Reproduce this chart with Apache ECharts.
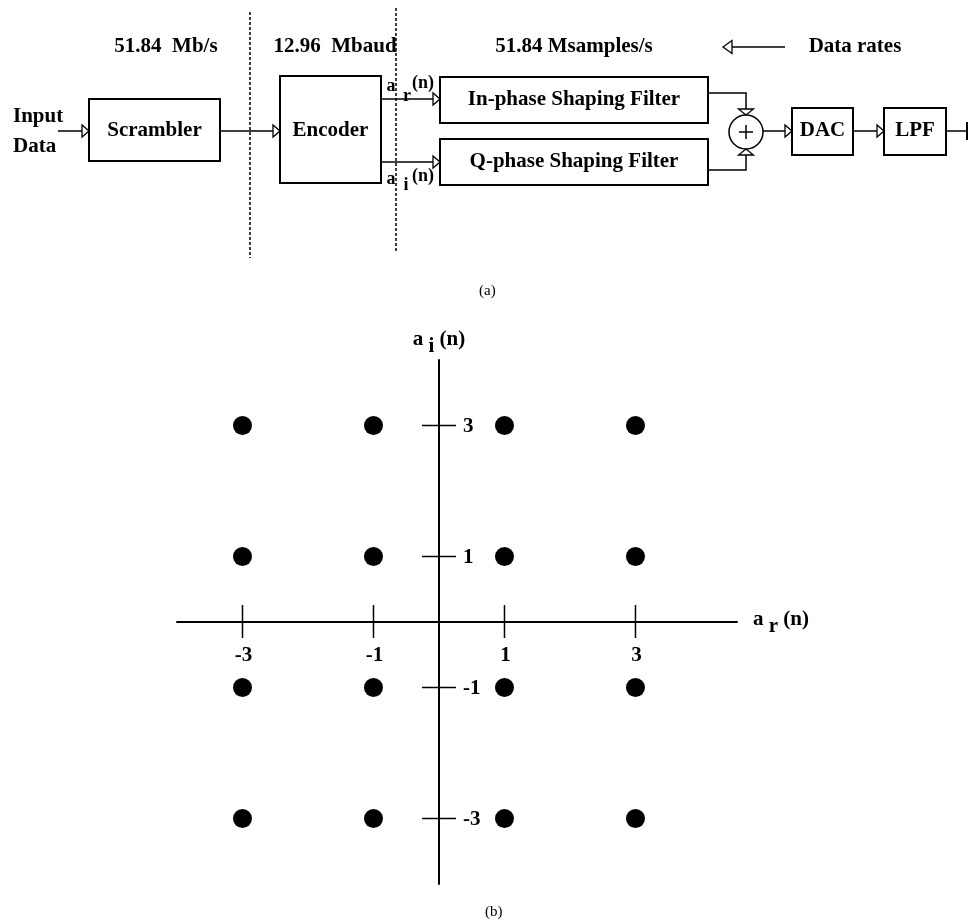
<!DOCTYPE html>
<html><head><meta charset="utf-8">
<script src="https://cdn.jsdelivr.net/npm/echarts@6/dist/echarts.min.js"></script>
<style>html,body{margin:0;padding:0;background:#fff}#c{width:969px;height:923px}</style>
</head><body><div id="c"></div>
<script>
// ---------------- data ----------------
const dataRates = ['51.84  Mb/s', '12.96  Mbaud', '51.84 Msamples/s'];
const legendLabel = 'Data rates';
const inputLabel = ['Input', 'Data'];
const blockNames = ['Scrambler', 'Encoder', 'In-phase Shaping Filter', 'Q-phase Shaping Filter', 'DAC', 'LPF'];
const signalNames = [['a', 'r', '(n)'], ['a', 'i', '(n)']];
const levelsI = [-3, -1, 1, 3];          // in-phase symbol levels a_r(n)
const levelsQ = [-3, -1, 1, 3];          // quadrature symbol levels a_i(n)
const xTickLabels = ['-3', '-1', '1', '3'];
const yTickLabels = ['-3', '-1', '1', '3'];
const captions = ['(a)', '(b)'];

// ---------------- layout (block diagram panel units) ----------------
const blockBoxes = [[89,99,220,161],[280,76,381,183],[440,77,708,123],[440,139,708,185],[792,108,853,155],[884,108,946,155]];
const blockTextY = [131, 131, 100, 162, 131, 131];
const connectors = [
  {pts:[[58,131],[89,131]], arrow:true},
  {pts:[[220,131],[280,131]], arrow:true},
  {pts:[[381,99],[440,99]], arrow:true},
  {pts:[[381,162],[440,162]], arrow:true},
  {pts:[[708,93],[746,93],[746,115]], arrow:true, aw:15, al:6},
  {pts:[[708,170],[746,170],[746,149]], arrow:true, aw:15, al:6},
  {pts:[[763,131],[792,131]], arrow:true},
  {pts:[[853,131],[884,131]], arrow:true},
  {pts:[[946,131],[967,131]], bar:true},
  {pts:[[785,47],[723,47]], arrow:true, aw:13, al:9}
];
const dashedLines = [[250,12,258],[396,8,252]];
const junction = {x:746, y:132, r:17};
const FONT = '"Liberation Serif", "Times New Roman", serif';

const diagramTexts = [
  {t:dataRates[0], x:166, y:47},
  {t:dataRates[1], x:335, y:47},
  {t:dataRates[2], x:574, y:47},
  {t:legendLabel, x:855, y:47},
  {t:inputLabel[0], x:13, y:117, align:'left'},
  {t:inputLabel[1], x:13, y:147, align:'left'},
  {t:signalNames[0][0], x:391, y:86, size:18},
  {t:signalNames[0][1], x:407, y:96, size:18},
  {t:signalNames[0][2], x:423, y:83, size:18},
  {t:signalNames[1][0], x:391, y:179, size:18},
  {t:signalNames[1][1], x:406, y:185, size:18},
  {t:signalNames[1][2], x:423, y:176, size:18}
];

function txt(str, x, y, size, align, weight) {
  return {type:'text', silent:true, style:{text:str, x:x, y:y, fill:'#000',
    font:(weight||'bold') + ' ' + (size||21) + 'px ' + FONT,
    align:align||'center', verticalAlign:'middle', textAlign:align||'center', textVerticalAlign:'middle'}};
}

const richName = {
  a:{fontFamily:FONT, fontWeight:'bold', fontSize:21, color:'#000', lineHeight:26, verticalAlign:'top'},
  s:{fontFamily:FONT, fontWeight:'bold', fontSize:21, color:'#000', lineHeight:36, verticalAlign:'middle'},
  n:{fontFamily:FONT, fontWeight:'bold', fontSize:21, color:'#000', lineHeight:26, verticalAlign:'top'}
};

const chart = echarts.init(document.getElementById('c'));

const points = [];
levelsQ.forEach(q => levelsI.forEach(i => points.push([i, q])));

const option = {
  animation:false,
  backgroundColor:'#fff',
  title:[
    {text:captions[0], left:479, top:284, padding:0, textStyle:{fontFamily:FONT, fontWeight:'normal', fontSize:15, color:'#000'}},
    {text:captions[1], left:485, top:905, padding:0, textStyle:{fontFamily:FONT, fontWeight:'normal', fontSize:15, color:'#000'}}
  ],
  grid:[
    {left:0, top:0, width:969, height:270, containLabel:false},
    {left:177, top:360, width:560, height:524, containLabel:false}
  ],
  xAxis:[
    {gridIndex:0, type:'value', min:0, max:969, show:false},
    {gridIndex:1, type:'value', min:-4, max:4.55, interval:1,
     axisLine:{onZero:true, lineStyle:{color:'#000', width:2}},
     axisTick:{show:false}, splitLine:{show:false}, axisLabel:{show:false},
     name:'{a|a}{s| r}{n| (n)}', nameLocation:'end', nameGap:16,
     nameTextStyle:{color:'#000', fontFamily:FONT, fontWeight:'bold', fontSize:21, padding:[10,0,0,0], rich:richName}}
  ],
  yAxis:[
    {gridIndex:0, type:'value', min:0, max:270, inverse:true, show:false},
    {gridIndex:1, type:'value', min:-4, max:4, interval:1,
     axisLine:{onZero:true, lineStyle:{color:'#000', width:2}},
     axisTick:{show:false}, splitLine:{show:false}, axisLabel:{show:false},
     name:'{a|a}{s| i}{n| (n)}', nameLocation:'end', nameGap:-5,
     nameTextStyle:{color:'#000', fontFamily:FONT, fontWeight:'bold', fontSize:21, rich:richName}}
  ],
  series:[
    // dashed rate-boundary lines
    {type:'custom', xAxisIndex:0, yAxisIndex:0, silent:true, data:dashedLines.map((d,i)=>[i]),
     renderItem:(params, api) => {
       const d = dashedLines[params.dataIndex];
       const a = api.coord([d[0], d[1]]), b = api.coord([d[0], d[2]]);
       return {type:'line', shape:{x1:a[0], y1:a[1], x2:b[0], y2:b[1]}, style:{stroke:'#000', lineWidth:1.5, lineDash:[3,2]}};
     }},
    // connectors with arrowheads
    {type:'custom', xAxisIndex:0, yAxisIndex:0, silent:true, data:connectors.map((c,i)=>[i]),
     renderItem:(params, api) => {
       const c = connectors[params.dataIndex];
       const pts = c.pts.map(p => api.coord(p));
       const children = [{type:'polyline', shape:{points:pts}, style:{stroke:'#000', lineWidth:1.5, fill:null}}];
       const E = pts[pts.length-1], S = pts[pts.length-2];
       const dx = E[0]-S[0], dy = E[1]-S[1], L = Math.hypot(dx, dy);
       const ux = dx/L, uy = dy/L, nx = -uy, ny = ux;
       if (c.arrow) {
         const al = c.al || 7, aw = (c.aw || 12)/2;
         const B = [E[0]-ux*al, E[1]-uy*al];
         children.push({type:'polygon', shape:{points:[E, [B[0]+nx*aw, B[1]+ny*aw], [B[0]-nx*aw, B[1]-ny*aw]]},
           style:{fill:'#fff', stroke:'#000', lineWidth:1.3}});
       }
       if (c.bar) {
         children.push({type:'line', shape:{x1:E[0], y1:E[1]-9, x2:E[0], y2:E[1]+9}, style:{stroke:'#000', lineWidth:2}});
       }
       return {type:'group', children:children};
     }},
    // summing junction
    {type:'custom', xAxisIndex:0, yAxisIndex:0, silent:true, data:[[0]],
     renderItem:(params, api) => {
       const c = api.coord([junction.x, junction.y]);
       const r = api.size([junction.r, 0])[0];
       return {type:'group', children:[
         {type:'circle', shape:{cx:c[0], cy:c[1], r:r}, style:{fill:'#fff', stroke:'#000', lineWidth:1.5}},
         {type:'line', shape:{x1:c[0]-7, y1:c[1], x2:c[0]+7, y2:c[1]}, style:{stroke:'#000', lineWidth:1.5}},
         {type:'line', shape:{x1:c[0], y1:c[1]-7, x2:c[0], y2:c[1]+7}, style:{stroke:'#000', lineWidth:1.5}}
       ]};
     }},
    // blocks
    {type:'custom', xAxisIndex:0, yAxisIndex:0, silent:true, data:blockNames.map((n,i)=>[i]),
     renderItem:(params, api) => {
       const i = params.dataIndex, b = blockBoxes[i];
       const p1 = api.coord([b[0], b[1]]), p2 = api.coord([b[2], b[3]]);
       const ty = api.coord([0, blockTextY[i]])[1];
       return {type:'group', children:[
         {type:'rect', shape:{x:p1[0], y:p1[1], width:p2[0]-p1[0], height:p2[1]-p1[1]}, style:{fill:'#fff', stroke:'#000', lineWidth:2}},
         txt(blockNames[i], (p1[0]+p2[0])/2, ty, 21)
       ]};
     }},
    // free text of the diagram
    {type:'custom', xAxisIndex:0, yAxisIndex:0, silent:true, data:diagramTexts.map((d,i)=>[i]),
     renderItem:(params, api) => {
       const d = diagramTexts[params.dataIndex];
       const p = api.coord([d.x, d.y]);
       return txt(d.t, p[0], p[1], d.size || 21, d.align || 'center');
     }},
    // constellation: x-axis ticks crossing the axis, with labels below
    {type:'custom', xAxisIndex:1, yAxisIndex:1, silent:true, data:levelsI.map(v => [v, 0]),
     renderItem:(params, api) => {
       const p = api.coord([api.value(0), api.value(1)]);
       return {type:'group', children:[
         {type:'line', shape:{x1:p[0], y1:p[1]-17, x2:p[0], y2:p[1]+16}, style:{stroke:'#000', lineWidth:1.5}},
         txt(xTickLabels[params.dataIndex], p[0]+1, p[1]+34, 21)
       ]};
     }},
    // constellation: y-axis ticks crossing the axis, with labels to the right
    {type:'custom', xAxisIndex:1, yAxisIndex:1, silent:true, data:levelsQ.map(v => [0, v]),
     renderItem:(params, api) => {
       const p = api.coord([api.value(0), api.value(1)]);
       return {type:'group', children:[
         {type:'line', shape:{x1:p[0]-17, y1:p[1], x2:p[0]+17, y2:p[1]}, style:{stroke:'#000', lineWidth:1.5}},
         txt(yTickLabels[params.dataIndex], p[0]+24, p[1]+1, 21, 'left')
       ]};
     }},
    // constellation points
    {type:'scatter', xAxisIndex:1, yAxisIndex:1, silent:true, symbol:'circle', symbolSize:19,
     itemStyle:{color:'#000', opacity:1}, data:points}
  ]
};
chart.setOption(option);
</script>
</body></html>
